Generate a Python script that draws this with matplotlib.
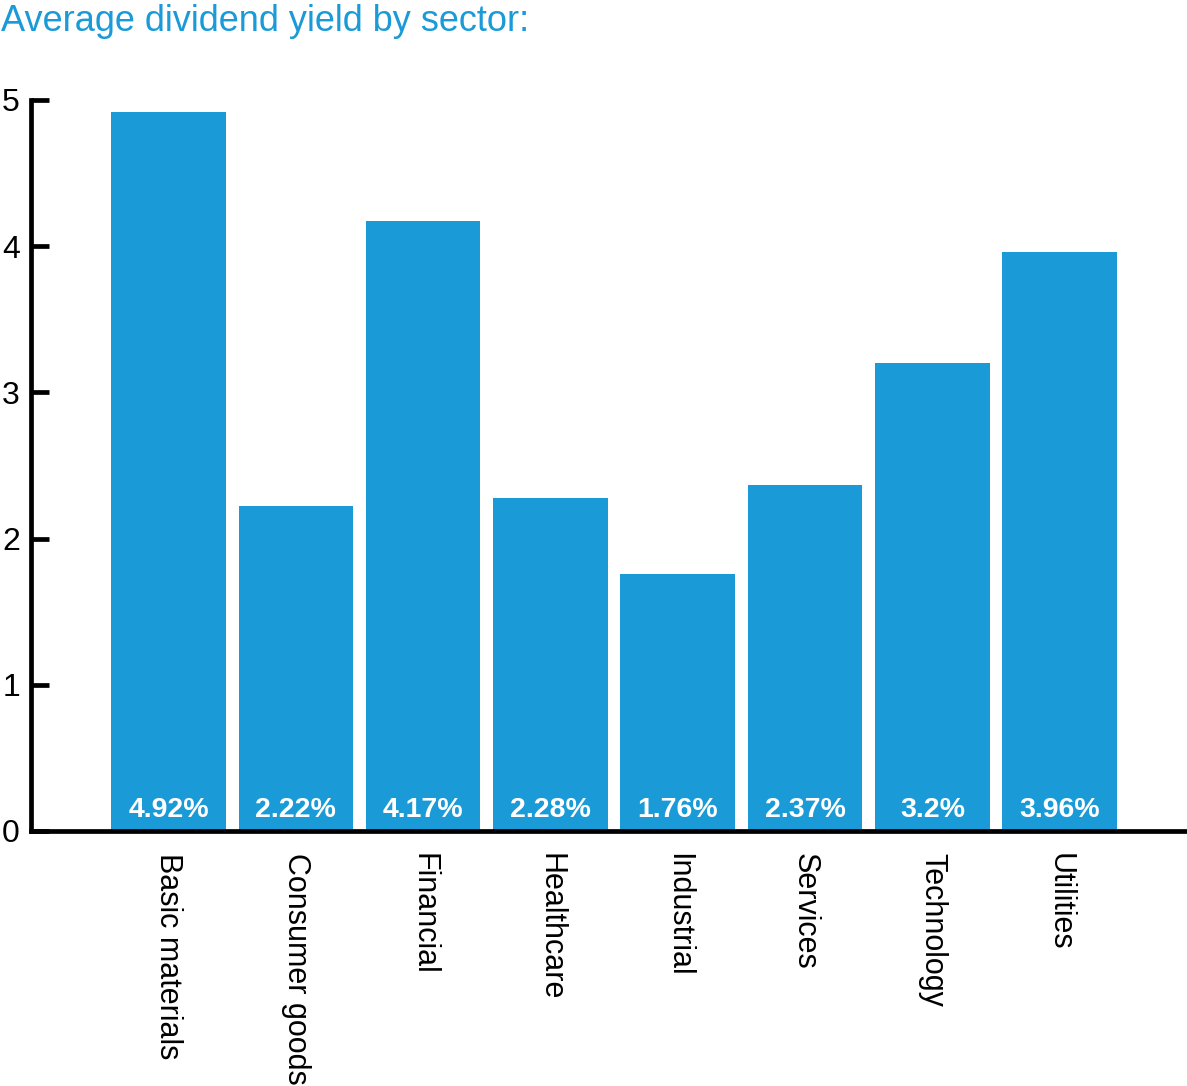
import matplotlib.pyplot as plt

sectors = ["Basic materials", "Consumer goods", "Financial", "Healthcare",
           "Industrial", "Services", "Technology", "Utilities"]
yields = [4.92, 2.22, 4.17, 2.28, 1.76, 2.37, 3.2, 3.96]
value_labels = ["4.92%", "2.22%", "4.17%", "2.28%", "1.76%", "2.37%", "3.2%", "3.96%"]
y_ticks = [0, 1, 2, 3, 4, 5]

blue = "#1a9bd7"
plt.rcParams["font.family"] = ["Liberation Sans", "DejaVu Sans"]

fig = plt.figure(figsize=(11.87, 10.86), dpi=100)
ax = fig.add_axes([31 / 1187, 1 - 831 / 1086, 1 - 31 / 1187, 731 / 1086])

x = list(range(len(sectors)))
ax.bar(x, yields, width=0.9, color=blue, zorder=1)

# value labels inside the bars, near the baseline
for xi, lab in zip(x, value_labels):
    ax.annotate(lab, (xi, 0), xytext=(0, 10), textcoords="offset points",
                ha="center", va="baseline", color="white",
                fontsize=20.5, fontweight="bold")

ax.set_xlim(-1.08, 8.0)
ax.set_ylim(0, 5)
ax.set_yticks(y_ticks)
ax.set_xticks(x)
ax.set_xticklabels(sectors, rotation=-90, ha="center", va="top", fontsize=22)

for side in ["top", "right"]:
    ax.spines[side].set_visible(False)
for side in ["left", "bottom"]:
    ax.spines[side].set_linewidth(3.4)
    ax.spines[side].set_color("black")

ax.tick_params(axis="y", direction="in", length=13, width=3.4, pad=8, labelsize=23)
ax.tick_params(axis="x", length=0, pad=16)

fig.text(0.001, 1 - 4 / 1086, "Average dividend yield by sector:",
         color=blue, fontsize=26, ha="left", va="top")

fig.savefig("out.png", dpi=100)
